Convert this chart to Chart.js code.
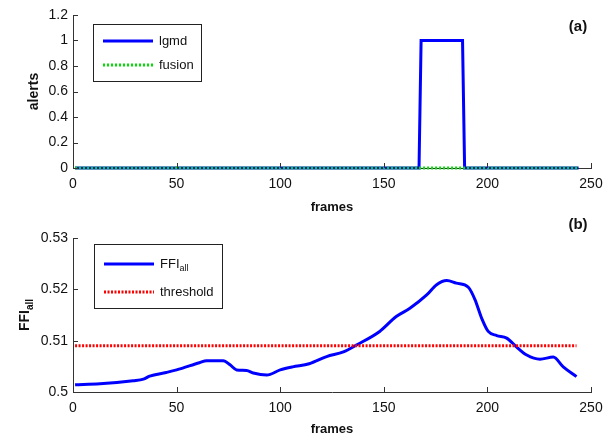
<!DOCTYPE html>
<html>
<head>
<meta charset="utf-8">
<script src="https://cdn.jsdelivr.net/npm/chart.js@4.4.1/dist/chart.umd.min.js"></script>
<style>
body { margin: 0; background: #fff; }
#wrap { position: relative; width: 613px; height: 439px; }
#c1 { position: absolute; left: 0; top: 0; }
#c2 { position: absolute; left: 0; top: 205px; }
</style>
</head>
<body>
<div id="wrap">
<canvas id="c1" width="613" height="220"></canvas>
<canvas id="c2" width="613" height="234"></canvas>
</div>
<script>
// data
var alertFrames = [1, 167, 168, 188, 189, 244];
var lgmdAlerts = [0, 0, 1, 1, 0, 0];
var fusionFrames = [1, 244];
var fusionAlerts = [0, 0];

var ffiFrames = [1, 13, 29, 34, 37, 45, 50, 61, 64.5, 72.5, 75.8, 79, 83.8, 87, 93.5, 100, 106, 114,
    122.4, 130.5, 137, 148, 156, 162.6, 170.7, 175.5, 180.4, 185, 190.8, 194, 197.2, 200.4, 204.5,
    209.3, 214, 219, 225.4, 231.8, 236.6, 243];
var ffiValues = [0.5014, 0.5016, 0.5022, 0.5025, 0.5031, 0.5038, 0.5043, 0.5057, 0.5061, 0.5061,
    0.5053, 0.5043, 0.5042, 0.5037, 0.5033, 0.5043, 0.5049, 0.5055, 0.5069, 0.5078, 0.5092, 0.5118,
    0.5147, 0.5163, 0.5189, 0.5209, 0.5217, 0.5212, 0.5204, 0.5180, 0.5144, 0.5118, 0.5110, 0.5105,
    0.5088, 0.5072, 0.5064, 0.5068, 0.5049, 0.5030];
var thresholdFrames = [1, 243];
var thresholdValues = [0.509, 0.509];

var frameTicks = [0, 50, 100, 150, 200, 250];
var alertTicks = [0, 0.2, 0.4, 0.6, 0.8, 1, 1.2];
var ffiTicks = [0.5, 0.51, 0.52, 0.53];

var FONT = "'Liberation Sans', Arial, sans-serif";

function toPoints(xs, ys) {
    return xs.map(function(x, i) { return { x: x, y: ys[i] }; });
}

function fixedTicks(list) {
    return function(scale) {
        scale.ticks = list.map(function(v) { return { value: v }; });
    };
}

// draws inward ticks, titles, legend box, panel letter
var decorPlugin = {
    id: 'decor',
    afterDraw: function(chart, args, opts) {
        var ctx = chart.ctx;
        var area = chart.chartArea;
        var xs = chart.scales.x, ys = chart.scales.y;
        ctx.save();

        // ticks pointing into the plot
        ctx.strokeStyle = '#333';
        ctx.lineWidth = 1;
        ctx.setLineDash([]);
        xs.ticks.forEach(function(t) {
            var px = Math.round(xs.getPixelForValue(t.value)) + 0.5;
            ctx.beginPath();
            ctx.moveTo(px, area.bottom);
            ctx.lineTo(px, area.bottom - 5);
            ctx.stroke();
        });
        ys.ticks.forEach(function(t) {
            var py = Math.round(ys.getPixelForValue(t.value)) + 0.5;
            ctx.beginPath();
            ctx.moveTo(area.left, py);
            ctx.lineTo(area.left + 5, py);
            ctx.stroke();
        });

        ctx.fillStyle = '#111';
        ctx.textAlign = 'center';
        ctx.textBaseline = 'middle';

        // x title
        ctx.font = 'bold 13px ' + FONT;
        ctx.fillText('frames', (area.left + area.right) / 2, opts.xTitleY);

        // y title (rotated), optional subscript
        ctx.save();
        ctx.translate(opts.yTitleX, (area.top + area.bottom) / 2);
        ctx.rotate(-Math.PI / 2);
        ctx.font = 'bold 14px ' + FONT;
        var w1 = ctx.measureText(opts.yTitle).width;
        var w2 = 0;
        if (opts.yTitleSub) {
            ctx.font = 'bold 10px ' + FONT;
            w2 = ctx.measureText(opts.yTitleSub).width;
        }
        ctx.textAlign = 'left';
        ctx.font = 'bold 14px ' + FONT;
        ctx.fillText(opts.yTitle, -(w1 + w2) / 2, 0);
        if (opts.yTitleSub) {
            ctx.font = 'bold 10px ' + FONT;
            ctx.fillText(opts.yTitleSub, -(w1 + w2) / 2 + w1, 5);
        }
        ctx.restore();

        // panel letter
        ctx.font = 'bold 15px ' + FONT;
        ctx.textAlign = 'center';
        ctx.fillText(opts.panel, 578, opts.panelY);

        // legend
        var lg = opts.legend;
        ctx.fillStyle = '#fff';
        ctx.fillRect(lg.x, lg.y, lg.w, lg.h);
        ctx.strokeStyle = '#222';
        ctx.lineWidth = 1;
        ctx.strokeRect(lg.x + 0.5, lg.y + 0.5, lg.w, lg.h);
        chart.data.datasets.forEach(function(ds, i) {
            var ey = lg.rows[i];
            ctx.strokeStyle = ds.borderColor;
            ctx.lineWidth = ds.borderWidth;
            ctx.setLineDash(ds.borderDash || []);
            ctx.beginPath();
            ctx.moveTo(lg.x + 10, ey);
            ctx.lineTo(lg.x + 60, ey);
            ctx.stroke();
            ctx.setLineDash([]);
            ctx.fillStyle = '#111';
            ctx.textAlign = 'left';
            ctx.font = '13px ' + FONT;
            ctx.fillText(ds.label, lg.x + 66, ey);
            if (ds.labelSub) {
                var tw = ctx.measureText(ds.label).width;
                ctx.font = '9px ' + FONT;
                ctx.fillText(ds.labelSub, lg.x + 66 + tw, ey + 5);
            }
        });
        ctx.restore();
    }
};

function makeScales(yMin, yMax, yTicks, xHeight) {
    var tickFont = { family: FONT, size: 14 };
    return {
        x: {
            type: 'linear', min: 0, max: 250,
            afterBuildTicks: fixedTicks(frameTicks),
            afterFit: function(scale) { scale.height = xHeight; },
            ticks: { font: tickFont, color: '#111', padding: 8, maxRotation: 0, autoSkip: false,
                callback: function(v) { return String(v); } },
            grid: { drawOnChartArea: false, drawTicks: false },
            border: { color: '#333', width: 1 }
        },
        y: {
            type: 'linear', min: yMin, max: yMax,
            afterBuildTicks: fixedTicks(yTicks),
            afterFit: function(scale) { scale.width = 73; },
            ticks: { font: tickFont, color: '#111', padding: 5, autoSkip: false,
                callback: function(v) { return String(Math.round(v * 1000) / 1000); } },
            grid: { drawOnChartArea: false, drawTicks: false },
            border: { color: '#333', width: 1 }
        }
    };
}

var commonOpts = {
    responsive: false,
    animation: false,
    plugins: { legend: { display: false }, tooltip: { enabled: false } },
    elements: { point: { radius: 0 } }
};

new Chart(document.getElementById('c1'), {
    type: 'line',
    data: {
        datasets: [{
            label: 'lgmd',
            data: toPoints(alertFrames, lgmdAlerts),
            borderColor: '#0000ff',
            borderWidth: 3,
            tension: 0,
            clip: false,
            order: 1
        }, {
            label: 'fusion',
            data: toPoints(fusionFrames, fusionAlerts),
            borderColor: '#00e000',
            borderWidth: 3,
            borderDash: [2, 2],
            clip: false,
            order: 0
        }]
    },
    options: Object.assign({}, commonOpts, {
        layout: { padding: { top: 15, right: 22, left: 0, bottom: 0 } },
        scales: makeScales(0, 1.2, alertTicks, 52),
        plugins: Object.assign({}, commonOpts.plugins, {
            decor: {
                xTitleY: 207, yTitleX: 34, yTitle: 'alerts', panel: '(a)', panelY: 27,
                legend: { x: 93, y: 24, w: 108, h: 57, rows: [41, 65] }
            }
        })
    }),
    plugins: [decorPlugin]
});

new Chart(document.getElementById('c2'), {
    type: 'line',
    data: {
        datasets: [{
            label: 'FFI',
            labelSub: 'all',
            data: toPoints(ffiFrames, ffiValues),
            borderColor: '#0000ff',
            borderWidth: 3,
            cubicInterpolationMode: 'monotone',
            clip: false,
            order: 1
        }, {
            label: 'threshold',
            data: toPoints(thresholdFrames, thresholdValues),
            borderColor: '#ff0000',
            borderWidth: 3,
            borderDash: [2, 1.5],
            clip: false,
            order: 0
        }]
    },
    options: Object.assign({}, commonOpts, {
        layout: { padding: { top: 33, right: 22, left: 0, bottom: 0 } },
        scales: makeScales(0.5, 0.53, ffiTicks, 47),
        plugins: Object.assign({}, commonOpts.plugins, {
            decor: {
                xTitleY: 224, yTitleX: 25, yTitle: 'FFI', yTitleSub: 'all', panel: '(b)', panelY: 20,
                legend: { x: 94, y: 39, w: 128, h: 64, rows: [59, 87] }
            }
        })
    }),
    plugins: [decorPlugin]
});
</script>
</body>
</html>
